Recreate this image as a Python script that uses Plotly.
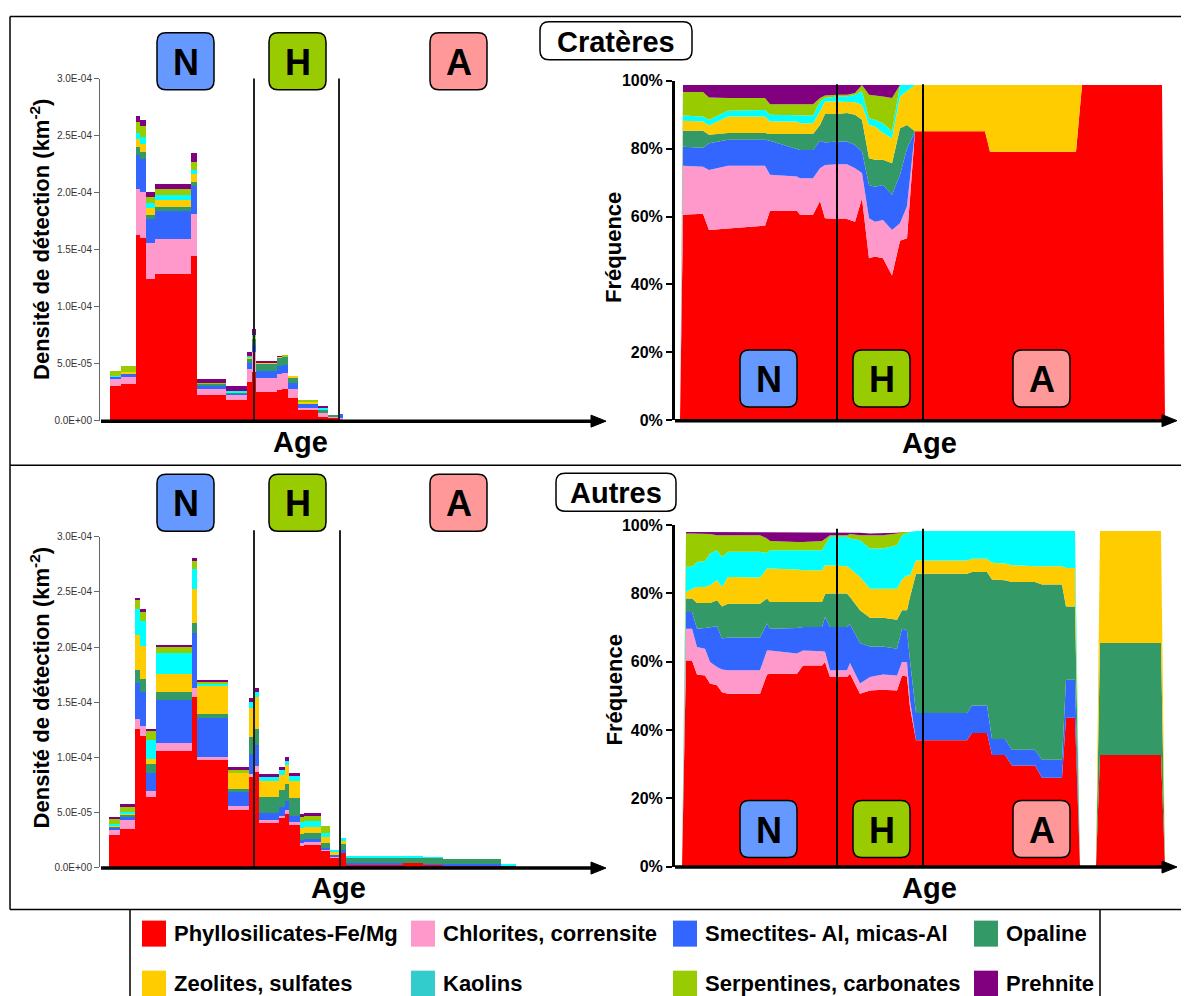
import numpy as np
import plotly.graph_objects as go

W, H = 1189, 996
FONT = "Liberation Sans, Arial, sans-serif"

CLASSES = ["Phyllosilicates-Fe/Mg", "Chlorites, corrensite", "Smectites- Al, micas-Al", "Opaline",
           "Zeolites, sulfates", "Kaolins", "Serpentines, carbonates", "Prehnite"]
COLORS = ["#FF0000", "#FF99CC", "#3366FF", "#339966", "#FFCC00", "#00FFFF", "#99CC00", "#800080"]
LEGEND_COLORS = ["#FF0000", "#FF99CC", "#3366FF", "#339966", "#FFCC00", "#33CCCC", "#99CC00", "#800080"]

# ---------------- Cratères : detection density histogram (upper edge of each band, x1e-5 km-2)
crat_bar_edges = [10, 21, 36, 40, 46, 55, 91, 97, 126, 147, 152, 156, 177, 182, 188, 198, 218, 228, 239, 243]
crat_bar_phyllo = [3.13, 3.31, 16.29, 16.1, 12.43, 12.87, 14.53, 2.34, 1.9, 3.48, 4.36, 2.6, 2.78, 2.87, 2.08, 1.03, 0.41, 0.32, 0.2]
crat_bar_chlor = [3.77, 3.92, 20.4, 20.06, 15.59, 16.0, 18.2, 2.87, 2.34, 4.62, 6.1, 3.83, 4.18, 4.27, 2.87, 1.2, 0.76, 0.41, 0.3]
crat_bar_smect = [3.9, 4.16, 23.3, 22.95, 17.7, 18.4, 20.65, 3.13, 2.42, 5.15, 6.7, 4.45, 4.89, 4.97, 3.4, 1.55, 0.76, 0.41, 0.6]
crat_bar_opal = [3.95, 4.16, 24.0, 23.6, 18.1, 18.8, 21.0, 3.3, 2.5, 5.5, 7.3, 5.06, 5.6, 5.67, 3.83, 1.55, 1.03, 0.59, 0.6]
crat_bar_zeol = [3.95, 4.3, 24.7, 24.3, 18.7, 19.36, 21.7, 3.3, 2.5, 5.55, 7.4, 5.15, 5.65, 5.67, 4.0, 1.73, 1.03, 0.59, 0.6]
crat_bar_kaol = [4.0, 4.3, 25.3, 24.9, 19.1, 19.8, 22.0, 3.3, 2.7, 5.65, 7.6, 5.15, 5.65, 5.67, 4.0, 1.73, 1.2, 0.59, 0.6]
crat_bar_serp = [4.45, 4.89, 26.2, 25.85, 19.7, 20.4, 22.7, 3.4, 2.7, 5.75, 7.6, 5.15, 5.65, 5.85, 4.0, 1.9, 1.2, 0.59, 0.6]
crat_bar_preh = [4.45, 4.89, 26.8, 26.4, 20.06, 20.76, 23.5, 3.75, 3.13, 6.1, 8.05, 5.3, 5.7, 5.85, 4.0, 1.9, 1.29, 0.59, 0.6]
crat_bar_epochs = [154, 239]

# ---------------- Autres : detection density histogram
aut_bar_edges = [9, 20, 35, 40, 46, 56, 92, 97, 128, 149, 154, 159, 179, 185, 189, 200, 204, 221, 230, 240, 246, 303, 323, 343, 401, 416]
aut_bar_phyllo = [2.91, 3.45, 12.6, 11.9, 6.36, 10.6, 15.45, 9.73, 5.18, 8.2, 8.7, 4.0, 4.45, 4.8, 3.8, 2.0, 2.09, 1.45, 0.91, 1.27, 0.3, 0.42, 0.24, 0.2, 0.12]
aut_bar_chlor = [3.36, 4.27, 13.5, 12.8, 6.9, 11.3, 16.3, 10.0, 5.55, 8.45, 9.2, 4.27, 4.7, 5.2, 4.1, 2.18, 2.27, 1.64, 1.0, 1.27, 0.3, 0.42, 0.24, 0.2, 0.12]
aut_bar_smect = [3.64, 4.55, 16.7, 15.9, 8.55, 15.2, 21.3, 13.6, 6.8, 10.3, 11.1, 4.9, 5.45, 6.0, 4.7, 2.45, 2.55, 1.73, 1.18, 1.55, 0.4, 0.42, 0.3, 0.3, 0.12]
aut_bar_opal = [3.73, 4.82, 17.9, 17.1, 9.36, 15.9, 22.2, 13.9, 7.1, 11.8, 12.6, 6.36, 7.0, 7.6, 6.27, 3.0, 3.1, 2.18, 1.18, 2.18, 0.9, 0.9, 0.85, 0.79, 0.12]
aut_bar_zeol = [3.82, 4.91, 21.1, 20.1, 9.8, 17.6, 25.3, 16.45, 8.6, 14.5, 15.45, 7.8, 8.36, 9.27, 7.8, 3.55, 3.64, 2.73, 1.36, 2.36, 0.9, 0.9, 0.85, 0.79, 0.12]
aut_bar_kaol = [3.9, 5.0, 23.45, 22.4, 11.6, 19.5, 27.1, 16.7, 8.6, 15.0, 15.9, 8.2, 8.8, 9.7, 8.27, 4.1, 4.18, 3.1, 1.55, 2.64, 1.0, 1.0, 0.9, 0.79, 0.24]
aut_bar_serp = [4.36, 5.55, 24.3, 23.2, 12.4, 20.0, 27.8, 16.8, 8.8, 15.0, 15.9, 8.2, 8.8, 9.7, 8.27, 4.6, 4.7, 3.73, 1.55, 2.64, 1.0, 1.0, 0.9, 0.79, 0.24]
aut_bar_preh = [4.55, 5.73, 24.5, 23.45, 12.6, 20.2, 28.05, 17.0, 9.1, 15.36, 16.3, 8.45, 9.1, 10.0, 8.55, 4.8, 4.9, 3.73, 1.55, 2.64, 1.0, 1.0, 0.9, 0.79, 0.24]
aut_bar_epochs = [154, 240]

# ---------------- Cratères : frequency (upper edge of each band, %)
crat_freq_age = [5, 8, 28, 34, 53, 90, 95, 122, 125, 138, 145, 150, 162, 172, 180, 187, 194, 200, 208, 217, 225, 232, 240, 248, 310, 315, 401, 407, 487, 490]
crat_freq_phyllo = [0, 60.5, 60.8, 56.0, 56.5, 57.3, 61.7, 61.7, 60.5, 60.5, 64.6, 59.5, 59.3, 59.3, 58.5, 65.4, 47.7, 48.2, 47.7, 42.6, 52.9, 53.6, 85.1, 85.1, 85.1, 79.1, 79.1, 98.8, 98.8, 0]
crat_freq_chlor = [0, 75.0, 74.7, 73.7, 75.0, 75.0, 72.3, 71.8, 71.3, 71.3, 74.2, 75.2, 75.4, 75.4, 74.2, 72.8, 59.5, 58.5, 59.0, 56.0, 58.0, 63.0, 85.1, 85.1, 85.1, 79.1, 79.1, 98.8, 98.8, 0]
crat_freq_smect = [0, 80.6, 80.3, 81.6, 82.6, 82.6, 82.3, 79.9, 79.6, 79.6, 82.3, 81.8, 82.1, 82.1, 81.1, 79.2, 69.3, 68.8, 69.3, 66.4, 72.3, 80.0, 85.1, 85.1, 85.1, 79.1, 79.1, 98.8, 98.8, 0]
crat_freq_opal = [0, 85.3, 85.3, 84.1, 84.6, 84.6, 84.3, 84.3, 84.3, 84.3, 87.0, 90.2, 90.2, 90.5, 90.0, 88.5, 77.2, 76.7, 76.7, 75.7, 86.0, 87.0, 85.1, 85.1, 85.1, 79.1, 79.1, 98.8, 98.8, 0]
crat_freq_zeol = [0, 88.2, 88.0, 86.8, 89.5, 89.5, 88.0, 88.0, 87.5, 87.5, 91.0, 93.9, 93.9, 93.9, 93.7, 92.9, 87.0, 86.5, 84.6, 83.1, 95.4, 97.0, 98.8, 98.8, 98.8, 98.8, 98.8, 98.8, 98.8, 0]
crat_freq_kaol = [0, 89.8, 89.5, 88.5, 91.2, 91.4, 90.0, 89.8, 89.8, 89.8, 93.9, 94.9, 95.4, 95.4, 95.9, 96.9, 89.0, 88.5, 87.5, 85.1, 98.8, 98.8, 98.8, 98.8, 98.8, 98.8, 98.8, 98.8, 98.8, 0]
crat_freq_serp = [0, 96.7, 96.7, 95.1, 94.9, 94.9, 93.1, 93.1, 93.1, 93.1, 94.9, 95.7, 95.9, 95.9, 96.4, 98.8, 95.9, 95.7, 95.4, 94.9, 98.8, 98.8, 98.8, 98.8, 98.8, 98.8, 98.8, 98.8, 98.8, 0]
crat_freq_preh = [0] + [98.8] * 28 + [0]

# ---------------- Autres : frequency
aut_freq_age = [7, 11, 17, 22, 30, 35, 42, 47, 53, 85, 92, 95, 122, 128, 147, 150, 155, 172, 175, 185, 195, 208, 222, 227, 232, 235, 241, 292, 297, 312, 317, 330, 337, 360, 367, 387, 391, 400, 405, 421, 425, 486, 490]
aut_freq_phyllo = [0, 60.4, 60.4, 56.3, 56.0, 53.6, 53.1, 51.1, 50.6, 50.6, 56.3, 56.5, 56.5, 58.9, 58.9, 59.9, 55.5, 55.5, 56.5, 50.6, 51.6, 51.8, 51.6, 56.0, 55.7, 46.7, 37.0, 37.0, 39.1, 39.1, 32.7, 32.7, 29.6, 29.6, 26.0, 26.0, 43.6, 43.6, 0, 0, 32.7, 32.7, 0]
aut_freq_chlor = [0, 69.7, 69.7, 64.3, 63.8, 59.9, 58.5, 57.7, 57.5, 57.5, 63.3, 63.3, 62.4, 63.3, 63.1, 62.9, 57.5, 57.5, 59.6, 53.6, 55.5, 56.3, 56.0, 59.9, 59.9, 48.7, 37.0, 37.0, 39.1, 39.1, 32.7, 32.7, 29.6, 29.6, 26.0, 26.0, 43.6, 43.6, 0, 0, 32.7, 32.7, 0]
aut_freq_smect = [0, 74.6, 74.6, 69.7, 69.9, 70.2, 70.4, 66.8, 67.1, 67.1, 71.2, 69.7, 69.9, 70.2, 70.2, 73.1, 70.2, 70.2, 71.0, 65.5, 64.5, 64.5, 63.8, 69.7, 69.2, 60.4, 45.0, 45.0, 47.2, 47.2, 37.4, 37.4, 34.2, 34.2, 31.3, 31.3, 54.7, 54.7, 0, 0, 32.7, 32.7, 0]
aut_freq_opal = [0, 78.5, 78.5, 77.2, 77.2, 77.2, 78.0, 76.2, 77.0, 77.0, 78.5, 77.5, 77.5, 77.5, 77.5, 79.8, 80.0, 80.0, 79.0, 75.1, 72.9, 72.9, 72.3, 75.1, 75.1, 79.0, 85.8, 85.8, 86.3, 86.3, 84.1, 83.9, 83.4, 83.4, 82.6, 82.6, 76.2, 76.2, 0, 0, 65.5, 65.5, 0]
aut_freq_zeol = [0, 80.4, 81.4, 81.9, 81.9, 82.4, 83.9, 81.9, 84.8, 84.7, 87.3, 87.3, 87.0, 86.8, 86.8, 88.3, 88.3, 88.0, 87.3, 84.8, 81.4, 81.4, 81.4, 84.1, 85.3, 85.3, 89.7, 89.7, 90.2, 90.2, 89.0, 88.8, 88.3, 88.0, 88.0, 88.0, 87.5, 87.5, 0, 0, 98.3, 98.3, 0]
aut_freq_kaol = [0, 87.8, 87.8, 89.2, 89.5, 91.7, 92.7, 90.7, 92.2, 92.2, 91.9, 92.7, 92.7, 92.7, 92.7, 94.1, 96.6, 96.6, 96.1, 95.6, 93.2, 93.2, 94.1, 97.1, 97.6, 98.0, 98.3, 98.3, 98.3, 98.3, 98.3, 98.3, 98.3, 98.3, 98.3, 98.3, 98.3, 98.3, 0, 0, 98.3, 98.3, 0]
aut_freq_serp = [0, 97.6, 97.6, 97.6, 97.6, 97.4, 97.1, 97.1, 97.1, 97.1, 96.1, 95.4, 95.1, 95.1, 95.4, 96.1, 97.1, 97.1, 97.4, 97.1, 97.1, 97.1, 97.6, 98.0, 98.0, 98.0, 98.3, 98.3, 98.3, 98.3, 98.3, 98.3, 98.3, 98.3, 98.3, 98.3, 98.3, 98.3, 0, 0, 98.3, 98.3, 0]
aut_freq_preh = [0] + [98.0] * 13 + [97.8] * 6 + [97.6, 97.6, 97.8, 98.0, 98.0, 98.0] + [98.3] * 12 + [0, 0, 98.3, 98.3, 0]

freq_epochs = [162, 248]

density_ticks = [0, 5e-5, 1e-4, 1.5e-4, 2e-4, 2.5e-4, 3e-4]
percent_ticks = [0, 20, 40, 60, 80, 100]
epoch_labels = ["N", "H", "A"]
epoch_colors = ["#6699FF", "#99CC00", "#FF9999"]

# page placement calibration (the photographed page sits slightly offset)
OFF_X, OFF_Y, SCALE_Y = 8.0, 16.25, 0.982


def px(x):
    return (x - OFF_X) / W


def py(y):
    return 1 - max(0.6, (y - OFF_Y) / SCALE_Y) / H


def band_heights(tops):
    arr = np.array(tops, dtype=float)
    prev = np.vstack([np.zeros(arr.shape[1]), arr[:-1]])
    return np.clip(arr - prev, 0, None)


fig = go.Figure()


def add_bars(edges, tops, xa, ya):
    e = np.array(edges, dtype=float)
    centers = (e[:-1] + e[1:]) / 2
    widths = np.diff(e)
    hs = band_heights(tops) * 1e-5
    for k in range(8):
        fig.add_trace(go.Bar(x=centers, y=hs[k], width=widths, name=CLASSES[k],
                             marker=dict(color=COLORS[k], line=dict(width=0)),
                             xaxis=xa, yaxis=ya, showlegend=False))


def add_areas(ages, tops, xa, ya, grp):
    hs = band_heights(tops)
    for k in range(8):
        fig.add_trace(go.Scatter(x=ages, y=hs[k], mode="lines", stackgroup=grp, name=CLASSES[k],
                                 line=dict(width=0, color=COLORS[k]), fillcolor=COLORS[k],
                                 xaxis=xa, yaxis=ya, showlegend=False))


add_bars(crat_bar_edges, [crat_bar_phyllo, crat_bar_chlor, crat_bar_smect, crat_bar_opal,
                          crat_bar_zeol, crat_bar_kaol, crat_bar_serp, crat_bar_preh], "x", "y")
add_areas(crat_freq_age, [crat_freq_phyllo, crat_freq_chlor, crat_freq_smect, crat_freq_opal,
                          crat_freq_zeol, crat_freq_kaol, crat_freq_serp, crat_freq_preh], "x2", "y2", "cf")
add_bars(aut_bar_edges, [aut_bar_phyllo, aut_bar_chlor, aut_bar_smect, aut_bar_opal,
                         aut_bar_zeol, aut_bar_kaol, aut_bar_serp, aut_bar_preh], "x3", "y3")
add_areas(aut_freq_age, [aut_freq_phyllo, aut_freq_chlor, aut_freq_smect, aut_freq_opal,
                         aut_freq_zeol, aut_freq_kaol, aut_freq_serp, aut_freq_preh], "x4", "y4", "af")

dens_axis = dict(range=[0, 3e-4], showline=True, linecolor="#666", linewidth=1, ticks="outside",
                 ticklen=5, tickcolor="#666", tickvals=density_ticks,
                 ticktext=[f"{v:.1E}" for v in density_ticks],
                 tickfont=dict(size=10, color="#333", family=FONT), showgrid=False, zeroline=False)
pct_axis = dict(range=[0, 100], showline=True, linecolor="black", linewidth=3, ticks="outside",
                ticklen=6, tickwidth=2, tickcolor="black", tickvals=percent_ticks,
                ticktext=[f"{v}%" for v in percent_ticks],
                tickfont=dict(size=16, color="black", family=FONT, weight="bold"),
                showgrid=False, zeroline=False)
hidden_x = dict(visible=False, showgrid=False, zeroline=False)

layout = dict(
    width=W, height=H, margin=dict(l=0, r=0, t=0, b=0),
    paper_bgcolor="white", plot_bgcolor="rgba(0,0,0,0)",
    barmode="stack", bargap=0, font=dict(family=FONT, color="black"),
    xaxis=dict(hidden_x, domain=[px(100), px(605)], range=[0, 505], anchor="y"),
    yaxis=dict(dens_axis, domain=[py(420.7), py(78.7)], anchor="x"),
    xaxis2=dict(hidden_x, domain=[px(675), px(1177)], range=[0, 502], anchor="y2"),
    yaxis2=dict(pct_axis, domain=[py(420), py(81)], anchor="x2"),
    xaxis3=dict(hidden_x, domain=[px(100), px(605)], range=[0, 505], anchor="y3"),
    yaxis3=dict(dens_axis, domain=[py(866.7), py(536.7)], anchor="x3"),
    xaxis4=dict(hidden_x, domain=[px(675), px(1177)], range=[0, 502], anchor="y4"),
    yaxis4=dict(pct_axis, domain=[py(866), py(525)], anchor="x4"),
)

shapes = []
annotations = []


def pline(x0, y0, x1, y1, w=1.5, color="black"):
    shapes.append(dict(type="line", xref="paper", yref="paper", x0=px(x0), y0=py(y0), x1=px(x1), y1=py(y1),
                       line=dict(color=color, width=w)))


# outer frames and legend box
pline(10, 14, 1187, 14)
pline(10, 14, 10, 909)
pline(1187, 14, 1187, 909)
pline(10, 465, 1187, 465)
pline(10, 909, 1187, 909)
pline(130, 909, 130, 1000)
pline(1100, 909, 1100, 1000)

# epoch separators
for xv in crat_bar_epochs:
    shapes.append(dict(type="line", xref="x", yref="y domain", x0=xv, x1=xv, y0=0, y1=1,
                       line=dict(color="#222", width=2)))
for xv in aut_bar_epochs:
    shapes.append(dict(type="line", xref="x3", yref="y3 domain", x0=xv, x1=xv, y0=0, y1=1.02,
                       line=dict(color="#222", width=2)))
for xa, ya in [("x2", "y2"), ("x4", "y4")]:
    for xv in freq_epochs:
        shapes.append(dict(type="line", xref=xa, yref=f"{ya} domain", x0=xv, x1=xv, y0=0, y1=0.99,
                           line=dict(color="black", width=2)))


# x-axis arrows
def arrow(x0, x1, y):
    pline(x0, y, x1 - 12, y, w=3.5)
    shapes.append(dict(type="path", xref="paper", yref="paper",
                       path=f"M {px(x1-15)},{py(y-6)} L {px(x1)},{py(y)} L {px(x1-15)},{py(y+6)} Z",
                       fillcolor="black", line=dict(color="black", width=1)))


arrow(101, 606, 421)
arrow(675, 1177, 420.5)
arrow(101, 606, 867.5)
arrow(675, 1177, 866.5)


def rrect_path(x0, y0, x1, y1, r=9):
    X = lambda v: px(v)
    Y = lambda v: py(v)
    return (f"M {X(x0+r)},{Y(y0)} L {X(x1-r)},{Y(y0)} Q {X(x1)},{Y(y0)} {X(x1)},{Y(y0+r)} "
            f"L {X(x1)},{Y(y1-r)} Q {X(x1)},{Y(y1)} {X(x1-r)},{Y(y1)} "
            f"L {X(x0+r)},{Y(y1)} Q {X(x0)},{Y(y1)} {X(x0)},{Y(y1-r)} "
            f"L {X(x0)},{Y(y0+r)} Q {X(x0)},{Y(y0)} {X(x0+r)},{Y(y0)} Z")


def rbox(x0, y0, x1, y1, fill, text, size):
    shapes.append(dict(type="path", xref="paper", yref="paper", path=rrect_path(x0, y0, x1, y1),
                       fillcolor=fill, line=dict(color="black", width=1.5)))
    annotations.append(dict(x=px((x0 + x1) / 2), y=py((y0 + y1) / 2 + 1), xref="paper", yref="paper",
                            text=text, showarrow=False, xanchor="center", yanchor="middle",
                            font=dict(size=size, color="black", family=FONT, weight="bold")))


# epoch boxes
box_cols = [(157, 214), (269, 326), (430, 487)]
box_cols_r = [(740, 797), (853, 910), (1013, 1070)]
for (cols, top) in [(box_cols, 33), (box_cols_r, 350), (box_cols, 474), (box_cols_r, 800)]:
    for (c0, c1), lab, colr in zip(cols, epoch_labels, epoch_colors):
        rbox(c0, top, c1, top + 57, colr, lab, 36)

# panel titles
rbox(540, 22, 692, 60, "white", "Cratères", 29)
rbox(556, 473, 676, 511, "white", "Autres", 29)


def text(x, y, s, size, angle=0, xanchor="center"):
    annotations.append(dict(x=px(x), y=py(y), xref="paper", yref="paper", text=s, showarrow=False,
                            xanchor=xanchor, yanchor="middle", textangle=angle,
                            font=dict(size=size, color="black", family=FONT, weight="bold")))


ytitle = "Densité de détection (km<sup>-2</sup>)"
text(40, 240, ytitle, 22, -90)
text(40, 688, ytitle, 22, -90)
text(614, 248, "Fréquence", 22, -90)
text(614, 690, "Fréquence", 22, -90)
text(300, 442, "Age", 29)
text(929, 443, "Age", 29)
text(338, 887, "Age", 29)
text(929, 887, "Age", 29)

# legend
leg_x = [142, 411, 673, 974]
leg_y = [933, 983]
for i, (name, colr) in enumerate(zip(CLASSES, LEGEND_COLORS)):
    cx = leg_x[i % 4]
    cy = leg_y[i // 4]
    shapes.append(dict(type="rect", xref="paper", yref="paper", x0=px(cx), x1=px(cx + 24),
                       y0=py(cy - 13), y1=py(cy + 13), fillcolor=colr, line=dict(width=0)))
    text(cx + 30, cy, name, 22, 0, "left")

layout["shapes"] = shapes
layout["annotations"] = annotations
fig.update_layout(**layout)
fig.write_html("out.html")
